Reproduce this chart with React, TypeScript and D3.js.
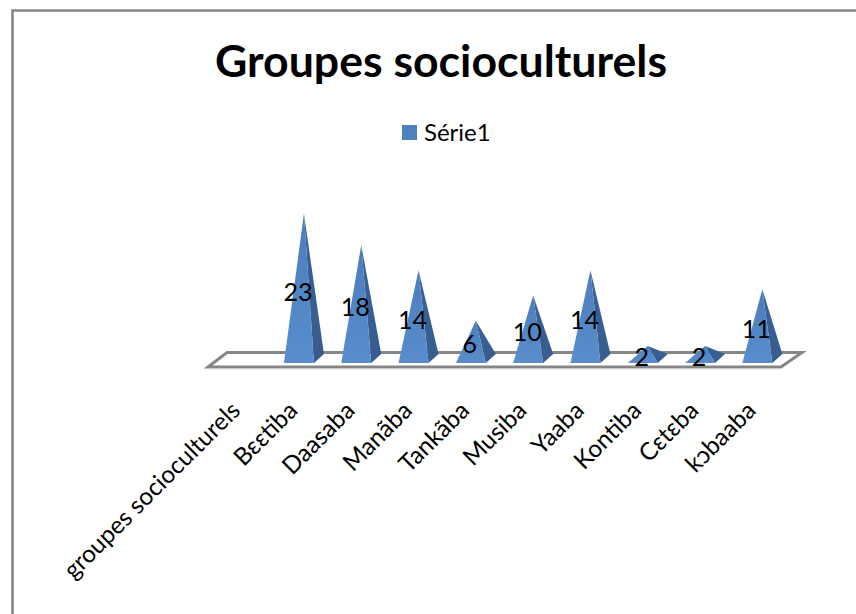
import React from "react";
import * as d3 from "d3";

const categories = ["groupes socioculturels", "Bɛɛtiba", "Daasaba", "Manãba", "Tankãba", "Musiba", "Yaaba", "Kontiba", "Cɛtɛba", "kɔbaaba"];
const values: (number | null)[] = [null, 23, 18, 14, 6, 10, 14, 2, 2, 11];
const seriesName = "Série1";
const title = "Groupes socioculturels";

const FONT = "Lato, Carlito, 'Open Sans', sans-serif";

export default function App() {
  const x = d3.scaleBand<number>().domain(d3.range(categories.length)).range([208, 781]).paddingInner(0).paddingOuter(0);
  const y = d3.scaleLinear().domain([0, 23]).range([358.5, 213.5]);
  const labelY = d3.scaleLinear().domain([0, 23]).range([363, 292]);
  const halfW = 15, depthX = 10, depthY = 9, baseY = 363;
  const line = d3.line();
  return (
    <svg width={856} height={614} style={{ position: "absolute", left: 0, top: 0, background: "#fff" }}>
      <defs>
        <linearGradient id="front" x1="0" y1="0" x2="0" y2="1">
          <stop offset="0" stopColor="#4a7db9" />
          <stop offset="1" stopColor="#5a8dcd" />
        </linearGradient>
        <linearGradient id="side" x1="0" y1="0" x2="0" y2="1">
          <stop offset="0" stopColor="#3a639a" />
          <stop offset="1" stopColor="#375c8c" />
        </linearGradient>
      </defs>
      <path d="M12.5 614V10.5H856" fill="none" stroke="#868686" strokeWidth={2.6} />
      <text x={441} y={76.5} textAnchor="middle" fontFamily={FONT} fontWeight={700} fontSize={44.6} fill="#000">{title}</text>
      <rect x={402} y={125} width={15} height={15} fill="#4f81bd" />
      <text x={424} y={141} fontFamily={FONT} fontSize={24} fill="#000">{seriesName}</text>
      <path d="M208 367L227 352.5H802L781 367Z" fill="#fff" stroke="#868686" strokeWidth={3} />
      <path d="M208 369H781" stroke="#d9d9d9" strokeWidth={1} />
      {categories.map((c, i) => {
        const left = (x(i) as number) + x.bandwidth() / 2 - 10;
        const v = values[i];
        return (
          <g key={c}>
            {v != null && (() => {
              const cx = left + halfW + 5;
              const apex: [number, number] = [cx, y(v)];
              const fl: [number, number] = [left, baseY];
              const fr: [number, number] = [left + 2 * halfW, baseY];
              const br: [number, number] = [left + 2 * halfW + depthX, baseY - depthY];
              return (
                <>
                  <path d={line([fr, br, apex]) + "Z"} fill="url(#side)" />
                  <path d={line([fl, fr, apex]) + "Z"} fill="url(#front)" />
                  <text x={left + 14} y={labelY(v)} dy="0.35em" textAnchor="middle" fontFamily={FONT} fontSize={25} fill="#000">{v}</text>
                </>
              );
            })()}
            <text transform={`translate(${left + 15},412) rotate(-45)`} textAnchor="end" fontFamily={FONT} fontSize={24.3} fill="#000">{c}</text>
          </g>
        );
      })}
    </svg>
  );
}
